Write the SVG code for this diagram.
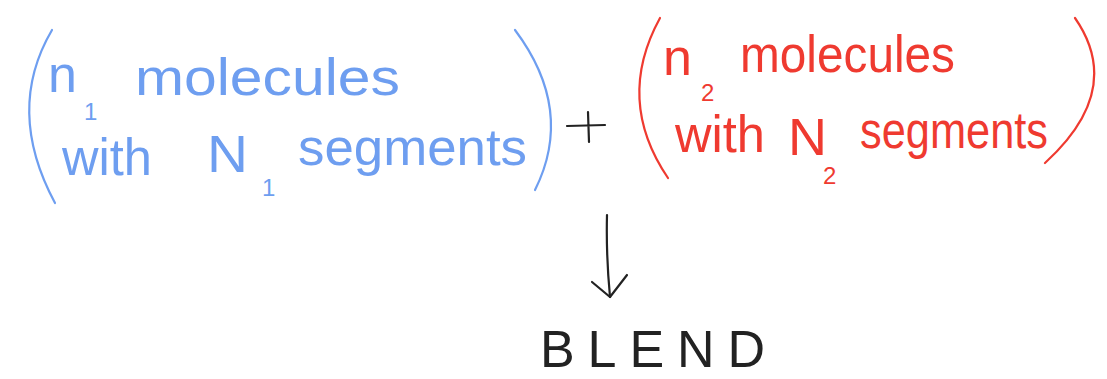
<svg xmlns="http://www.w3.org/2000/svg" width="1107" height="379" viewBox="0 0 1107 379">
<style>
.hand{font-family:"Liberation Sans","DejaVu Sans",sans-serif;}
.blue{fill:#6e9ef0;}
.red{fill:#ef3a30;}
.bl{fill:none;stroke:#6e9ef0;stroke-width:2.2;stroke-linecap:round;}
.rl{fill:none;stroke:#ef3a30;stroke-width:2.2;stroke-linecap:round;}
.kl{fill:none;stroke:#222;stroke-width:2.2;stroke-linecap:round;stroke-linejoin:round;}
.big{font-size:52px;}
.sub{font-size:24px;}
</style>
<rect width="1107" height="379" fill="#fff"/>
<g id="blue-group">
  <path class="bl" d="M52,30 Q5,110 55,203"/>
  <path class="bl" d="M515,30 Q575,110 535,190"/>
  <text class="hand blue big" x="48" y="92">n</text>
  <text class="hand blue sub" x="84" y="120">1</text>
  <text class="hand blue big" x="135" y="95" textLength="265" lengthAdjust="spacingAndGlyphs">molecules</text>
  <text class="hand blue big" x="62" y="175" textLength="90" lengthAdjust="spacingAndGlyphs">with</text>
  <text class="hand blue big" x="207" y="172" textLength="41" lengthAdjust="spacingAndGlyphs">N</text>
  <text class="hand blue sub" x="262" y="196">1</text>
  <text class="hand blue big" x="298" y="165" textLength="229" lengthAdjust="spacingAndGlyphs">segments</text>
</g>
<g id="plus">
  <path class="kl" d="M567,126 L605,125 M588,112 L589,142"/>
</g>
<g id="red-group">
  <path class="rl" d="M660,18 Q615,100 668,178"/>
  <path class="rl" d="M1075,18 Q1125,90 1045,163"/>
  <text class="hand red big" x="663" y="75">n</text>
  <text class="hand red sub" x="701" y="101">2</text>
  <text class="hand red big" x="740" y="72" textLength="215" lengthAdjust="spacingAndGlyphs">molecules</text>
  <text class="hand red big" x="675" y="152" textLength="90" lengthAdjust="spacingAndGlyphs">with</text>
  <text class="hand red big" x="788" y="155" textLength="39" lengthAdjust="spacingAndGlyphs">N</text>
  <text class="hand red sub" x="823" y="184">2</text>
  <text class="hand red big" x="860" y="148" textLength="188" lengthAdjust="spacingAndGlyphs">segments</text>
</g>
<g id="connectors">
  <path class="kl" d="M607,215 Q606,255 610,297"/>
  <path class="kl" d="M592,282 L610,297 L627,275"/>
</g>
<g id="blend">
  <text class="hand" x="540" y="367" font-size="52" fill="#222" textLength="225" lengthAdjust="spacing">BLEND</text>
</g>
</svg>
